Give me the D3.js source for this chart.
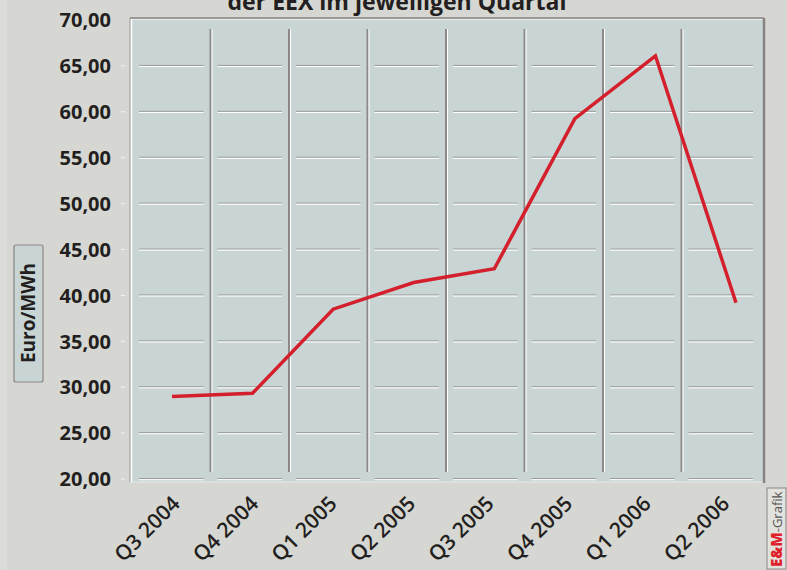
<!DOCTYPE html>
<html>
<head>
<meta charset="utf-8">
<script src="https://cdn.jsdelivr.net/npm/d3@7"></script>
<style>
  body { margin: 0; padding: 0; background: #d6d7d2; }
  svg { display: block; }
  text { font-family: "Open Sans", "DejaVu Sans", sans-serif; fill: #231f20; }
</style>
</head>
<body>
<svg id="chart"></svg>
<script>
// données : prix moyen par trimestre
var quartale = ["Q3 2004", "Q4 2004", "Q1 2005", "Q2 2005", "Q3 2005", "Q4 2005", "Q1 2006", "Q2 2006"]
var preise = [29.0, 29.35, 38.5, 41.4, 42.9, 59.25, 66.1, 39.2]
var yTicks = [20, 25, 30, 35, 40, 45, 50, 55, 60, 65, 70]
var titel = "der EEX im jeweiligen Quartal"
var yTitel = "Euro/MWh"

var W = 787, H = 570
var canevas = d3.select("#chart").attr("width", W).attr("height", H)

// fond
canevas.append("rect").attr("width", W).attr("height", H).attr("fill", "#d6d7d2")
canevas.append("rect").attr("width", 7).attr("height", H).attr("fill", "#dcdcd8")

// zone du graphique
var plot = {x: 131, y: 19, w: 632, h: 463}

var y = d3.scaleLinear().domain([20, 70]).range([479, 20])
var xBand = d3.scaleBand().domain(quartale).range([132, 760])
var xPt = d3.scalePoint().domain(quartale).range([172, 736])

canevas.append("rect")
  .attr("x", plot.x).attr("y", plot.y)
  .attr("width", plot.w).attr("height", plot.h)
  .attr("fill", "#c9d5d5")

// bordure en relief
canevas.append("line").attr("x1", plot.x - 1).attr("y1", plot.y - 1).attr("x2", plot.x + plot.w + 1).attr("y2", plot.y - 1)
  .attr("style", "stroke:#8a8282;stroke-width:1.5")
canevas.append("line").attr("x1", plot.x).attr("y1", plot.y + 0.5).attr("x2", plot.x + plot.w).attr("y2", plot.y + 0.5)
  .attr("style", "stroke:#e8eeee;stroke-width:1")
canevas.append("line").attr("x1", plot.x - 1).attr("y1", plot.y - 1).attr("x2", plot.x - 1).attr("y2", plot.y + plot.h)
  .attr("style", "stroke:#9a9696;stroke-width:1")
canevas.append("line").attr("x1", plot.x + 0.5).attr("y1", plot.y).attr("x2", plot.x + 0.5).attr("y2", plot.y + plot.h)
  .attr("style", "stroke:#ffffff;stroke-width:1.5")
canevas.append("line").attr("x1", plot.x + plot.w + 1).attr("y1", plot.y - 1).attr("x2", plot.x + plot.w + 1).attr("y2", plot.y + plot.h + 1)
  .attr("style", "stroke:#8a8282;stroke-width:2.5")
canevas.append("line").attr("x1", plot.x).attr("y1", plot.y + plot.h).attr("x2", plot.x + plot.w).attr("y2", plot.y + plot.h)
  .attr("style", "stroke:#e4eaea;stroke-width:1")

// lignes horizontales par segment
var bw = xBand.bandwidth()
yTicks.filter(function(d){ return d < 70 }).forEach(function(v){
  quartale.forEach(function(q){
    var x0 = xBand(q) + 7, x1 = xBand(q) + bw - 7
    canevas.append("line").attr("x1", x0).attr("x2", x1).attr("y1", y(v) - 0.5).attr("y2", y(v) - 0.5)
      .attr("style", "stroke:#9c9c9c;stroke-width:1")
    canevas.append("line").attr("x1", x0).attr("x2", x1).attr("y1", y(v) + 0.7).attr("y2", y(v) + 0.7)
      .attr("style", "stroke:#ffffff;stroke-width:1")
  })
})

// séparations verticales
quartale.slice(1).forEach(function(q){
  var xv = xBand(q)
  canevas.append("line").attr("x1", xv).attr("x2", xv).attr("y1", 29).attr("y2", 472)
    .attr("style", "stroke:#8c8888;stroke-width:2")
  canevas.append("line").attr("x1", xv + 1.5).attr("x2", xv + 1.5).attr("y1", 29).attr("y2", 472)
    .attr("style", "stroke:#ffffff;stroke-width:1")
})

// axe y
var axeY = canevas.append("g")
yTicks.forEach(function(v){
  if (v < 70) {
    axeY.append("line").attr("x1", 121).attr("x2", 125).attr("y1", y(v)).attr("y2", y(v))
      .attr("style", "stroke:#f4f4f4;stroke-width:1")
  }
  axeY.append("text")
    .text(d3.format(".2f")(v).replace(".", ","))
    .attr("x", 111).attr("y", y(v)).attr("dy", "0.36em")
    .attr("text-anchor", "end")
    .style("font-size", "20px").style("font-weight", "700")
})

// titre axe y dans une boîte
canevas.append("rect").attr("x", 14).attr("y", 245).attr("width", 29).attr("height", 137)
  .attr("rx", 2).attr("fill", "#c9d5d5").attr("style", "stroke:#8a8686;stroke-width:1.2")
canevas.append("text").text(yTitel)
  .attr("transform", "translate(35,313) rotate(-90)")
  .attr("text-anchor", "middle")
  .style("font-size", "19px").style("font-weight", "700")

// étiquettes x
quartale.forEach(function(q){
  var cx = xBand(q) + bw / 2
  canevas.append("text").text(q)
    .attr("transform", "translate(" + (cx + 10) + ",505) rotate(-45)")
    .attr("text-anchor", "end")
    .style("font-size", "21px").style("font-weight", "600")
})

// courbe
var ligne = d3.line().x(function(d, i){ return xPt(quartale[i]) }).y(function(d){ return y(d) })
canevas.append("path").datum(preise)
  .attr("d", ligne)
  .attr("style", "fill:none;stroke:#d4202c;stroke-width:3.5;stroke-linejoin:miter")

// titre (coupé en haut comme dans l'original)
canevas.append("text").text(titel)
  .attr("x", 397).attr("y", 10)
  .attr("text-anchor", "middle")
  .attr("textLength", 339).attr("lengthAdjust", "spacingAndGlyphs")
  .style("font-size", "24px").style("font-weight", "700")

// marque E&M-Grafik
canevas.append("rect").attr("x", 767).attr("y", 488).attr("width", 19).attr("height", 81)
  .attr("fill", "#e2e2de").attr("style", "stroke:#8a8686;stroke-width:1")
var marque = canevas.append("text")
  .attr("transform", "translate(782,567) rotate(-90)")
marque.append("tspan").text("E&M").style("font-weight", "800").style("fill", "#e0202a").style("font-size", "15px")
marque.append("tspan").text("-Grafik").style("fill", "#555555").style("font-size", "13px")
</script>
</body>
</html>
